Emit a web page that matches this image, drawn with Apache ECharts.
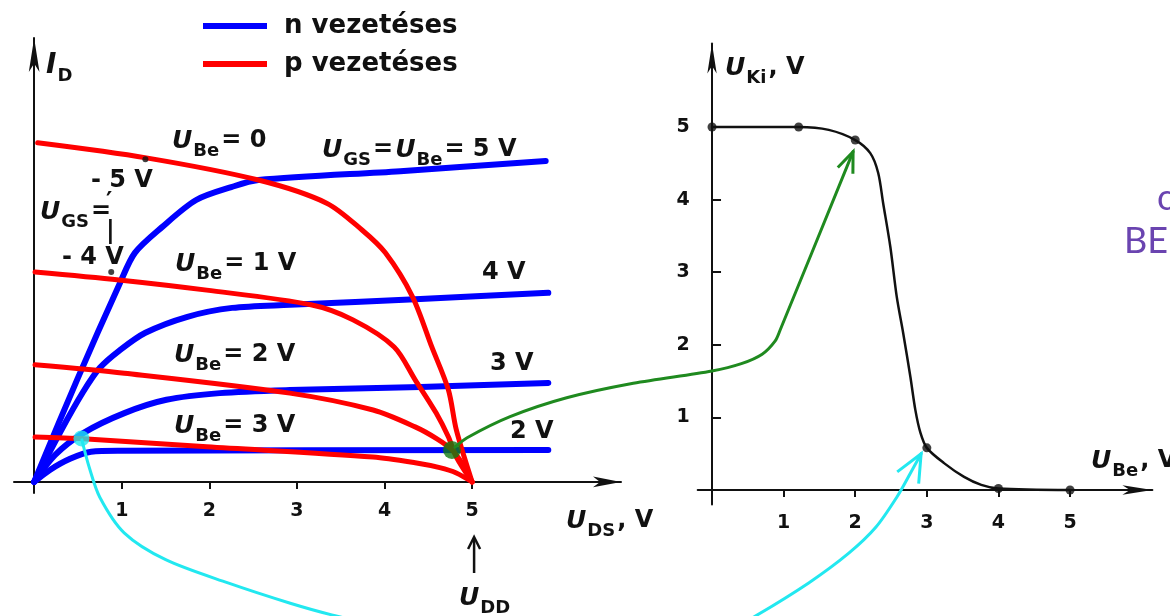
<!DOCTYPE html>
<html><head><meta charset="utf-8">
<script src="https://cdn.jsdelivr.net/npm/echarts@6/dist/echarts.min.js"></script>
<style>html,body{margin:0;padding:0;background:#fff}#c{width:1170px;height:616px}</style>
</head><body><div id="c"></div>
<script>
// ---- Output characteristics I_D(U_DS): n-channel, U_GS = 5, 4, 3, 2 V ----
const nGS5 = [[0,0],[0.49,2.30],[0.98,4.48],[1.15,5.16],[1.46,5.74],[1.85,6.35],[2.25,6.64],[2.56,6.80],[4.18,7.00],[5.84,7.23]];
const nGS4 = [[0,0],[0.30,1.13],[0.56,2.03],[0.75,2.57],[0.98,2.97],[1.27,3.36],[1.75,3.72],[2.26,3.92],[2.92,3.99],[4.41,4.12],[5.87,4.26]];
const nGS3 = [[0,0],[0.24,0.61],[0.56,1.10],[1.03,1.55],[1.51,1.85],[2.12,2.00],[2.92,2.07],[4.41,2.14],[5.87,2.23]];
const nGS2 = [[0,0],[0.18,0.27],[0.41,0.52],[0.65,0.68],[0.98,0.70],[5.87,0.72]];
// ---- p-channel load curves for U_Be = 0, 1, 2, 3 V (U_DD = 5 V) ----
const pBe0 = [[0.04,7.64],[1.28,7.30],[2.56,6.80],[3.34,6.28],[3.74,5.68],[4.01,5.16],[4.32,4.17],[4.54,3.04],[4.73,2.07],[4.82,1.17],[5.0,0]];
const pBe1 = [[0.01,4.73],[0.97,4.55],[1.97,4.32],[3.16,3.99],[3.64,3.65],[4.11,3.04],[4.35,2.30],[4.59,1.55],[4.73,1.01],[4.82,0.56],[5.0,0]];
const pBe2 = [[0.01,2.64],[1.03,2.45],[2.92,2.00],[3.87,1.62],[4.35,1.24],[4.59,0.98],[4.77,0.72],[4.90,0.38],[5.0,0]];
const pBe3 = [[0.01,1.01],[0.56,0.97],[1.97,0.79],[3.87,0.56],[4.35,0.43],[4.63,0.32],[4.82,0.20],[5.0,0]];
// marked points on the I_D plane
const gsMarks = [[1.27,7.27],[0.88,4.73]];   // U_GS = -5 V and -4 V
const workGreen = [[4.77,0.72]];               // U_Be = 2 V
const workCyan  = [[0.54,0.98]];               // U_Be = 3 V
// ---- Transfer characteristic U_Ki(U_Be) ----
const uKi = [[0,5.0],[1.21,5.0],[1.63,4.96],[2.0,4.82],[2.21,4.64],[2.32,4.37],[2.39,3.95],[2.49,3.35],[2.58,2.66],[2.67,2.16],[2.77,1.56],[2.84,1.10],[2.91,0.79],[3.0,0.58],[3.24,0.37],[3.52,0.18],[3.76,0.07],[4.0,0.02],[5.0,0]];
const uKiDots = [[0,5.0],[1.21,5.0],[2.0,4.82],[3.0,0.58],[4.0,0.02],[5.0,0]];
// connector paths, in U_Be / U_Ki units
const greenPath = [[-3.59,0.59],[-3.42,0.72],[-2.82,1.01],[-2.03,1.27],[-1.10,1.47],[0,1.64],[0.41,1.74],[0.70,1.87],[0.88,2.05],[0.95,2.20],[1.97,4.66]];
const cyanPath = [[-8.80,0.69],[-8.70,0.32],[-8.55,-0.10],[-8.21,-0.59],[-7.63,-0.96],[-6.76,-1.28],[-5.89,-1.56],[-5.31,-1.72],[-4.08,-2.00],[-2.40,-2.18],[-0.87,-2.18],[0.11,-2.00],[0.60,-1.74],[1.35,-1.28],[1.91,-0.87],[2.29,-0.51],[2.58,-0.10],[2.77,0.23],[2.92,0.50]];
// tick labels
const udsTicks = [1,2,3,4,5];
const ubeTicks = [1,2,3,4,5];
const ukiTicks = [1,2,3,4,5];

const FONT = '"DejaVu Sans", sans-serif';
const INK = '#111';
const BLUE = '#0000ff', RED = '#ff0000', GREEN = '#1f8a1f', CYAN = '#22e8f0';

const chart = echarts.init(document.getElementById('c'), null, {renderer:'canvas'});

function curve(name, data, color, width, gi, z) {
  return {type:'line', name, xAxisIndex:gi, yAxisIndex:gi, data, symbol:'none', showSymbol:false,
    smooth:0.3, lineStyle:{color, width, cap:'round', join:'round'}, itemStyle:{color},
    z, silent:true, clip:false};
}
function dots(data, color, size, gi, z) {
  return {type:'scatter', xAxisIndex:gi, yAxisIndex:gi, data, symbol:'circle', symbolSize:size,
    itemStyle:{color}, z, silent:true, clip:false};
}
const axisLineStyle = {color:INK, width:2};
const tickFont = {fontFamily:FONT, fontSize:19, fontWeight:'bold', color:INK};

chart.setOption({
  animation:false,
  backgroundColor:'#fff',
  legend:{orient:'vertical', left:198, top:8, itemWidth:64, itemHeight:6, itemGap:12, icon:'rect', selectedMode:false,
    data:['n vezetéses','p vezetéses'],
    textStyle:{fontFamily:FONT, fontSize:26, fontWeight:'bold', color:INK, lineHeight:26, padding:[0,0,0,12]}},
  grid:[{left:14, top:38, width:607, height:455},{left:697.7, top:43.5, width:454.7, height:461}],
  xAxis:[
    {type:'value', gridIndex:0, min:-0.23, max:6.7, splitLine:{show:false},
      axisLine:{onZero:true, lineStyle:axisLineStyle, symbol:['none','arrow'], symbolSize:[8,28]},
      axisTick:{customValues:udsTicks, length:7, lineStyle:{color:INK, width:2}},
      axisLabel:Object.assign({customValues:udsTicks, margin:9}, tickFont)},
    {type:'value', gridIndex:1, min:-0.2, max:6.15, splitLine:{show:false},
      axisLine:{onZero:true, lineStyle:axisLineStyle, symbol:['none','arrow'], symbolSize:[7,30]},
      axisTick:{customValues:ubeTicks, length:7, lineStyle:{color:INK, width:2}},
      axisLabel:Object.assign({customValues:ubeTicks, margin:9}, tickFont)}
  ],
  yAxis:[
    {type:'value', gridIndex:0, min:-0.25, max:10, splitLine:{show:false},
      axisLine:{onZero:true, lineStyle:axisLineStyle, symbol:['none','arrow'], symbolSize:[8,34]},
      axisTick:{show:false}, axisLabel:{show:false}},
    {type:'value', gridIndex:1, min:-0.2, max:6.15, splitLine:{show:false},
      axisLine:{onZero:true, lineStyle:axisLineStyle, symbol:['none','arrow'], symbolSize:[7,30]},
      axisTick:{customValues:ukiTicks, inside:true, length:9, lineStyle:{color:INK, width:2}},
      axisLabel:Object.assign({customValues:ukiTicks, margin:8}, tickFont)}
  ],
  series:[
    curve('n vezetéses', nGS5, BLUE, 6, 0, 2),
    curve('n vezetéses', nGS4, BLUE, 6, 0, 2),
    curve('n vezetéses', nGS3, BLUE, 6, 0, 2),
    curve('n vezetéses', nGS2, BLUE, 6, 0, 2),
    curve('p vezetéses', pBe0, RED, 5, 0, 3),
    curve('p vezetéses', pBe1, RED, 5, 0, 3),
    curve('p vezetéses', pBe2, RED, 5, 0, 3),
    curve('p vezetéses', pBe3, RED, 5, 0, 3),
    dots(gsMarks, INK, 6, 0, 4),
    curve('Uki', uKi, INK, 2.5, 1, 3),
    dots(uKiDots, INK, 9, 1, 4),
    dots(workGreen, '#127a12', 18, 0, 6),
    dots(workCyan, CYAN, 16, 0, 6)
  ]
});

// ---- text annotations ----
const mctx = document.createElement('canvas').getContext('2d');
const KIND = {
  I:{size:28, style:'italic', dy:0},
  i:{size:25, style:'italic', dy:0},
  s:{size:18, style:'normal', dy:10},
  n:{size:24, style:'normal', dy:0}
};
function label(x, y, parts, fill) {
  const out = [];
  let cx = x;
  parts.forEach(([t, k]) => {
    const s = KIND[k];
    mctx.font = `${s.style} bold ${s.size}px ${FONT}`;
    out.push({type:'text', x:cx, y:y + s.dy, z:20, silent:true,
      style:{text:t, fontFamily:FONT, fontSize:s.size, fontStyle:s.style, fontWeight:'bold', fill:fill || INK, align:'left', verticalAlign:'middle'}});
    cx += mctx.measureText(t).width + (k === 'i' || k === 'I' ? 1 : 2);
  });
  return out;
}
const gfx = [].concat(
  label(46, 66, [['I','I'],['D','s']]),
  label(172, 141, [['U','i'],['Be','s'],['= 0','n']]),
  label(91, 181, [['- 5 V','n']]),
  label(40, 212, [['U','i'],['GS','s'],['=','n']]),
  label(106, 203, [['′','n']]),
  label(106, 232, [['|','n']]),
  label(62, 258, [['- 4 V','n']]),
  label(175, 264, [['U','i'],['Be','s'],['= 1 V','n']]),
  label(482, 273, [['4 V','n']]),
  label(322, 150, [['U','i'],['GS','s'],['=','n'],['U','i'],['Be','s'],['= 5 V','n']]),
  label(174, 355, [['U','i'],['Be','s'],['= 2 V','n']]),
  label(490, 364, [['3 V','n']]),
  label(174, 426, [['U','i'],['Be','s'],['= 3 V','n']]),
  label(510, 432, [['2 V','n']]),
  label(566, 521, [['U','i'],['DS','s'],[', V','n']]),
  label(459, 598, [['U','i'],['DD','s']]),
  label(725, 68, [['U','i'],['Ki','s'],[', V','n']]),
  label(1091, 461, [['U','i'],['Be','s'],[', V','n']])
);
gfx.push({type:'text', x:1157, y:198, z:20, silent:true, style:{text:'c', fontFamily:'Lato, sans-serif', fontSize:36, fill:'#6a44b0', verticalAlign:'middle'}});
gfx.push({type:'text', x:1124, y:241, z:20, silent:true, style:{text:'BE', fontFamily:'Lato, sans-serif', fontSize:36, fill:'#6a44b0', verticalAlign:'middle'}});

// U_DD pointer under the x axis, at U_DS = 5 V
const pDD = chart.convertToPixel({xAxisIndex:0, yAxisIndex:0}, [5, 0]);
const ddX = pDD[0] + 2;
gfx.push({type:'line', z:20, silent:true, shape:{x1:ddX, y1:573, x2:ddX, y2:538}, style:{stroke:INK, lineWidth:2.5}});
gfx.push({type:'polyline', z:20, silent:true, shape:{points:[[ddX-6, 549],[ddX, 537],[ddX+6, 549]]}, style:{stroke:INK, lineWidth:2.5, fill:null}});

// connectors between the two diagrams, placed through the U_Be / U_Ki axes
const toPx = p => chart.convertToPixel({xAxisIndex:1, yAxisIndex:1}, p);
function connector(path, color) {
  return {type:'polyline', z:15, silent:true, shape:{points:path.map(toPx), smooth:0.3},
    style:{stroke:color, lineWidth:3, fill:null, lineCap:'round', lineJoin:'round'}};
}
function head(path, color, len, ang) {
  const a = toPx(path[path.length - 1]);
  const b = toPx(path[path.length - 2]);
  const d = Math.atan2(b[1] - a[1], b[0] - a[0]);
  const p1 = [a[0] + len * Math.cos(d + ang), a[1] + len * Math.sin(d + ang)];
  const p2 = [a[0] + len * Math.cos(d - ang), a[1] + len * Math.sin(d - ang)];
  return {type:'polyline', z:16, silent:true, shape:{points:[p1, a, p2]}, style:{stroke:color, lineWidth:3, fill:null, lineJoin:'miter'}};
}
gfx.push(connector(greenPath, GREEN), head(greenPath, GREEN, 22, 0.38));
gfx.push(connector(cyanPath, CYAN), head(cyanPath, CYAN, 30, 0.42));

chart.setOption({graphic:gfx});
</script>
</body></html>
